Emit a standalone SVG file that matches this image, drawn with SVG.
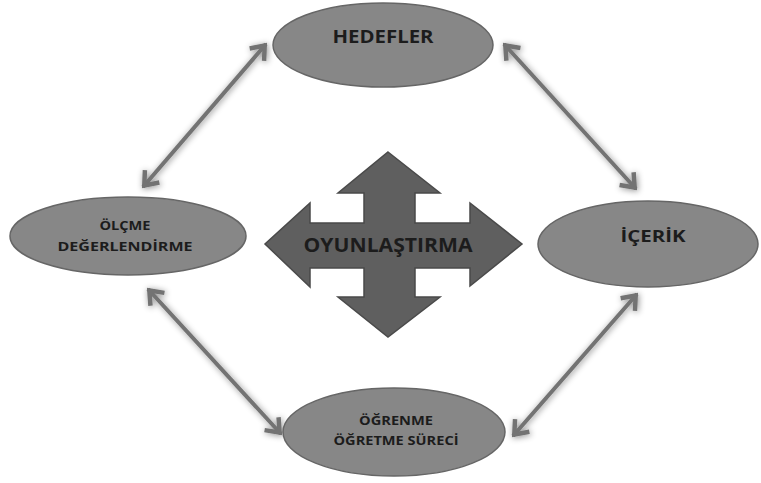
<svg xmlns="http://www.w3.org/2000/svg" width="761" height="483" viewBox="0 0 761 483">
  <defs>
    <style>
      .node { fill: #878787; stroke: #666666; stroke-width: 1.5; }
      .lbl { font-family: "Open Sans", "Liberation Sans", sans-serif; font-weight: 700; fill: #1c1c1c; text-anchor: middle; }
      .link { stroke: #737373; stroke-width: 4; fill: none; marker-start: url(#chev); marker-end: url(#chev); filter: url(#soft); }
      .cross { fill: #5f5f5f; stroke: #4a4a4a; stroke-width: 1.5; }
    </style>
    <marker id="chev" markerUnits="userSpaceOnUse" viewBox="-20 -12 24 24" markerWidth="24" markerHeight="24" refX="0" refY="0" orient="auto-start-reverse">
      <path d="M-14,-9.5 L-2,0 L-14,9.5" fill="none" stroke="#737373" stroke-width="4.5" stroke-linejoin="miter"/>
    </marker>
    <!-- soft grey halo behind the links -->
    <filter id="soft" x="-20%" y="-20%" width="140%" height="140%">
      <feGaussianBlur in="SourceAlpha" stdDeviation="3" result="b"/>
      <feOffset in="b" dx="1" dy="1" result="o"/>
      <feFlood flood-color="#000" flood-opacity="0.45"/>
      <feComposite in2="o" operator="in" result="s"/>
      <feMerge>
        <feMergeNode in="s"/>
        <feMergeNode in="SourceGraphic"/>
      </feMerge>
    </filter>
  </defs>

  <rect width="761" height="483" fill="#ffffff"/>

  <!-- double-headed links between the outer nodes -->
  <g id="connectors">
    <line class="link" x1="266" y1="44" x2="143" y2="187"/>
    <line class="link" x1="504" y1="44" x2="636" y2="189"/>
    <line class="link" x1="148" y1="289" x2="281" y2="434"/>
    <line class="link" x1="637" y1="294" x2="513" y2="436"/>
  </g>

  <!-- central four-way arrow -->
  <g id="oyunlastirma">
    <path class="cross" d="M388,152 L440,193 L415,193 L415,223 L470,223 L470,203 L522,244 L470,286 L470,268 L415,268 L415,297 L440,297 L388,337 L338,297 L364,297 L364,268 L310,268 L310,287 L265,244 L310,203 L310,223 L364,223 L364,193 L338,193 Z"/>
    <text class="lbl" x="388" y="252" font-size="19" textLength="169" lengthAdjust="spacingAndGlyphs">OYUNLAŞTIRMA</text>
  </g>

  <g id="hedefler">
    <ellipse class="node" cx="383" cy="45" rx="110" ry="42"/>
    <text class="lbl" x="383" y="43" font-size="18" textLength="101" lengthAdjust="spacingAndGlyphs">HEDEFLER</text>
  </g>

  <g id="olcme">
    <ellipse class="node" cx="128" cy="236" rx="118" ry="39"/>
    <text class="lbl" x="125" y="230" font-size="12" textLength="51" lengthAdjust="spacingAndGlyphs">ÖLÇME</text>
    <text class="lbl" x="125" y="251" font-size="12" textLength="135" lengthAdjust="spacingAndGlyphs">DEĞERLENDİRME</text>
  </g>

  <g id="icerik">
    <ellipse class="node" cx="648" cy="244" rx="110" ry="43"/>
    <text class="lbl" x="653" y="242" font-size="16" textLength="65" lengthAdjust="spacingAndGlyphs">İÇERİK</text>
  </g>

  <g id="ogrenme">
    <ellipse class="node" cx="394" cy="432" rx="111" ry="44"/>
    <text class="lbl" x="396" y="425" font-size="11.5" textLength="74" lengthAdjust="spacingAndGlyphs">ÖĞRENME</text>
    <text class="lbl" x="396" y="445" font-size="11.5" textLength="125" lengthAdjust="spacingAndGlyphs">ÖĞRETME SÜRECİ</text>
  </g>
</svg>
